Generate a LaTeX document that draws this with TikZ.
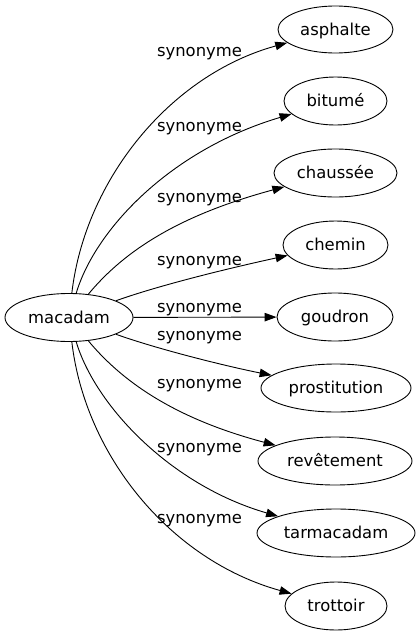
\documentclass[tikz,border=0pt]{standalone}
\usepackage{fontspec}
\setmainfont{DejaVu Sans}
\usetikzlibrary{shapes.geometric,arrows.meta}
\begin{document}
\begin{tikzpicture}[x=1pt,y=-1pt,
 every node/.style={font=\fontsize{16.4}{19}\selectfont},
 word/.style={ellipse,draw,line width=0.9pt,inner sep=0pt,minimum height=48pt,text height=14.8pt,text depth=3.7pt},
 lbl/.style={anchor=base,inner sep=0pt},
 syn/.style={draw,line width=0.9pt,-{Triangle[length=12pt,width=8.5pt]}}]
\useasboundingbox (0,0) rectangle (419,635);
\node[word,minimum width=128pt] (m) at (69,317.5) {macadam};
\node[word,minimum width=115pt,minimum height=47pt] (a) at (335.5,29.5) {asphalte};
\node[word,minimum width=103pt] (b) at (335.5,101) {bitumé};
\node[word,minimum width=123pt] (c) at (335.5,173) {chaussée};
\node[word,minimum width=105pt] (d) at (335.5,245) {chemin};
\node[word,minimum width=116pt] (g) at (335,317) {goudron};
\node[word,minimum width=150pt] (p) at (336,388) {prostitution};
\node[word,minimum width=154pt] (r) at (335,461) {revêtement};
\node[word,minimum width=158pt] (t) at (336,533) {tarmacadam};
\node[word,minimum width=102pt] (o) at (336,606) {trottoir};

\path[syn] (m) .. controls (85,180) and (170,75) .. (a);
\path[syn] (m) .. controls (95,230) and (170,150) .. (b);
\path[syn] (m) .. controls (125,250) and (180,215) .. (c);
\path[syn] (m) .. controls (160,285) and (230,268) .. (d);
\path[syn] (m) -- (g);
\path[syn] (m) .. controls (160,350) and (230,367) .. (p);
\path[syn] (m) .. controls (125,385) and (180,420) .. (r);
\path[syn] (m) .. controls (95,405) and (170,485) .. (t);
\path[syn] (m) .. controls (85,455) and (170,560) .. (o);

\node[lbl] (l1) at (199.5,56) {synonyme};
\node[lbl] (l2) at (199.5,131) {synonyme};
\node[lbl] (l3) at (199.5,202) {synonyme};
\node[lbl] (l4) at (199.5,265) {synonyme};
\node[lbl] (l5) at (199.5,312) {synonyme};
\node[lbl] (l6) at (199.5,340) {synonyme};
\node[lbl] (l7) at (199.5,388) {synonyme};
\node[lbl] (l8) at (199.5,452) {synonyme};
\node[lbl] (l9) at (199.5,523) {synonyme};
\end{tikzpicture}
\end{document}
